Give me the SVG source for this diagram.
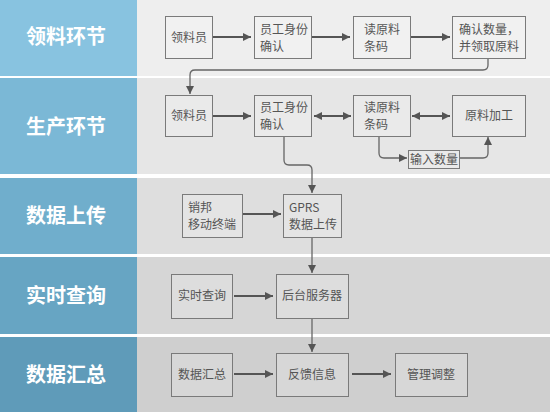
<svg xmlns="http://www.w3.org/2000/svg" width="550" height="412" viewBox="0 0 550 412">
<style>
.lbl{font-family:"Noto Sans CJK SC",sans-serif;font-size:20px;font-weight:bold;fill:#fff;text-anchor:middle}
.t{font-family:"Noto Sans CJK SC",sans-serif;font-size:12px;fill:#555}
.c{text-anchor:middle}
.box{fill:#fff;fill-opacity:0.18;stroke:#7a7a7a;stroke-width:1}
.arr{fill:none;stroke:#555;stroke-width:2}
.con{fill:none;stroke:#666;stroke-width:1.3}
</style>
<defs>
<marker id="ah" markerUnits="userSpaceOnUse" markerWidth="9" markerHeight="8" refX="8" refY="4" orient="auto-start-reverse">
<path d="M0,0 L8,4 L0,8 z" fill="#555"/>
</marker>
</defs>
<rect x="0" y="0" width="550" height="412" fill="#fff"/>
<g id="bands">
<rect x="0" y="0" width="137" height="76" fill="#88C3E0"/>
<rect x="137" y="0" width="413" height="76" fill="#EEEEEE"/>
<rect x="0" y="78" width="137" height="96" fill="#7BB8D6"/>
<rect x="137" y="78" width="413" height="96" fill="#E6E6E6"/>
<rect x="0" y="178" width="137" height="76" fill="#70AECC"/>
<rect x="137" y="178" width="413" height="76" fill="#DEDEDE"/>
<rect x="0" y="257" width="137" height="77" fill="#67A5C3"/>
<rect x="137" y="257" width="413" height="77" fill="#D6D6D6"/>
<rect x="0" y="337" width="137" height="75" fill="#5F9BB9"/>
<rect x="137" y="337" width="413" height="75" fill="#CFCFCF"/>
<text class="lbl" x="66" y="44">领料环节</text>
<text class="lbl" x="66" y="134">生产环节</text>
<text class="lbl" x="66" y="223">数据上传</text>
<text class="lbl" x="66" y="303">实时查询</text>
<text class="lbl" x="66" y="382">数据汇总</text>
</g>
<g id="connectors">
<path class="arr" d="M213,37 H251" marker-end="url(#ah)"/>
<path class="arr" d="M312,37 H350" marker-end="url(#ah)"/>
<path class="arr" d="M410,37 H450" marker-end="url(#ah)"/>
<path class="con" d="M488,58 V65 Q488,70 483,70 H195 Q190,70 190,75 V94" marker-end="url(#ah)"/>
<path class="arr" d="M213,116 H251" marker-end="url(#ah)"/>
<path class="arr" d="M314,116 H351" marker-start="url(#ah)" marker-end="url(#ah)"/>
<path class="arr" d="M412,116 H450" marker-start="url(#ah)" marker-end="url(#ah)"/>
<path class="con" d="M284,136 V160 Q284,165 289,165 H307 Q312,165 312,170 V193" marker-end="url(#ah)"/>
<path class="con" d="M379,136 V153 Q379,158 384,158 H407" marker-end="url(#ah)"/>
<path class="con" d="M459,158 H483 Q488,158 488,153 V137" marker-end="url(#ah)"/>
<path class="arr" d="M242,214 H281" marker-end="url(#ah)"/>
<path class="con" d="M312,237 V273" marker-end="url(#ah)"/>
<path class="arr" d="M234,296 H273" marker-end="url(#ah)"/>
<path class="con" d="M312,318 V352" marker-end="url(#ah)"/>
<path class="arr" d="M234,374 H273" marker-end="url(#ah)"/>
<path class="arr" d="M352,374 H391" marker-end="url(#ah)"/>
</g>
<g id="n1"><rect class="box" x="165.5" y="16.5" width="47" height="42"/><text class="t c" x="189" y="42">领料员</text></g>
<g id="n2"><rect class="box" x="254.5" y="16.5" width="57" height="42"/><text class="t" x="260" y="34">员工身份</text><text class="t" x="260" y="51">确认</text></g>
<g id="n3"><rect class="box" x="353.5" y="16.5" width="57" height="42"/><text class="t" x="364" y="34">读原料</text><text class="t" x="364" y="51">条码</text></g>
<g id="n4"><rect class="box" x="452.5" y="16.5" width="73" height="42"/><text class="t" x="459" y="34">确认数量，</text><text class="t" x="459" y="51">并领取原料</text></g>
<g id="n5"><rect class="box" x="165.5" y="95.5" width="47" height="41"/><text class="t c" x="189" y="120">领料员</text></g>
<g id="n6"><rect class="box" x="254.5" y="95.5" width="57" height="41"/><text class="t" x="260" y="112">员工身份</text><text class="t" x="260" y="129">确认</text></g>
<g id="n7"><rect class="box" x="353.5" y="95.5" width="57" height="41"/><text class="t" x="364" y="112">读原料</text><text class="t" x="364" y="129">条码</text></g>
<g id="n8"><rect class="box" x="452.5" y="95.5" width="73" height="41"/><text class="t c" x="489" y="120">原料加工</text></g>
<g id="n9"><rect class="box" x="408.5" y="150.5" width="51" height="18"/><text class="t c" x="434" y="164">输入数量</text></g>
<g id="n10"><rect class="box" x="182.5" y="194.5" width="60" height="43"/><text class="t" x="188" y="212">销邦</text><text class="t" x="188" y="229">移动终端</text></g>
<g id="n11"><rect class="box" x="283.5" y="194.5" width="58" height="43"/><text class="t" x="289" y="212">GPRS</text><text class="t" x="289" y="229">数据上传</text></g>
<g id="n12"><rect class="box" x="171.5" y="274.5" width="61" height="44"/><text class="t c" x="202" y="300">实时查询</text></g>
<g id="n13"><rect class="box" x="276.5" y="274.5" width="72" height="44"/><text class="t c" x="312" y="300">后台服务器</text></g>
<g id="n14"><rect class="box" x="171.5" y="353.5" width="61" height="43"/><text class="t c" x="202" y="379">数据汇总</text></g>
<g id="n15"><rect class="box" x="276.5" y="353.5" width="72" height="43"/><text class="t c" x="312" y="379">反馈信息</text></g>
<g id="n16"><rect class="box" x="395.5" y="353.5" width="72" height="43"/><text class="t c" x="431" y="379">管理调整</text></g>
</svg>
